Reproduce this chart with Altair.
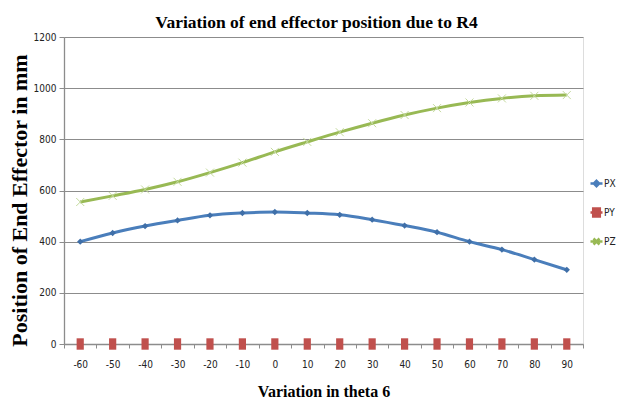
import altair as alt
import pandas as pd

theta = [-60, -50, -40, -30, -20, -10, 0, 10, 20, 30, 40, 50, 60, 70, 80, 90]
px = [400, 434, 461, 483, 503, 512, 516, 512, 505, 486, 463, 437, 400, 369, 330, 290]
py = [0, 0, 0, 0, 0, 0, 0, 0, 0, 0, 0, 0, 0, 0, 0, 0]
pz = [555, 579, 604, 634, 670, 709, 751, 790, 828, 863, 895, 922, 944, 960, 970, 973]
series_names = ["PX", "PY", "PZ"]
series_colors = ["#4A7EBB", "#C0504D", "#98B954"]
y_ticks = [0, 200, 400, 600, 800, 1000, 1200]

rows = []
for name, vals in zip(series_names, [px, py, pz]):
    for t, v in zip(theta, vals):
        rows.append({"theta": t, "value": v, "series": name})
df = pd.DataFrame(rows)

narrow = "Liberation Sans Narrow, DejaVu Sans Condensed, Arial Narrow, sans-serif"
serif = "Liberation Serif, Times New Roman, serif"
grey = "#8C8C8C"

x_enc = alt.X(
    "theta:O",
    bandPosition=0.5,
    scale=alt.Scale(type="band", paddingInner=0, paddingOuter=0),
    axis=alt.Axis(
        title="Variation in theta 6",
        titleFont=serif, titleFontSize=16, titleFontWeight="bold", titleColor="black",
        titleBaseline="alphabetic", titleY=52,
        labelAngle=0, labelFont=narrow, labelFontSize=10, labelColor="#222222",
        labelPadding=11, tickBand="extent", tickSize=4, tickColor=grey,
        domainColor=grey, domainWidth=1.3, grid=False,
    ),
)
y_enc = alt.Y(
    "value:Q",
    scale=alt.Scale(domain=[0, 1200], nice=False),
    axis=alt.Axis(
        title="Position of End Effector in mm",
        titleFont=serif, titleFontSize=22, titleFontWeight="bold", titleColor="black",
        titleBaseline="alphabetic", titleX=-38, titleY=163, titleAngle=-90,
        values=y_ticks, format="d", labelFont=narrow, labelFontSize=10, labelColor="#222222",
        labelPadding=3, tickSize=5, tickColor=grey, domainColor=grey, domainWidth=1.3,
        grid=True, gridColor=grey, gridWidth=1.2,
    ),
)

base = alt.Chart(df).encode(x=x_enc, y=y_enc)

line_px = base.transform_filter(alt.datum.series == "PX").mark_line(
    interpolate="monotone", strokeWidth=3, color=series_colors[0])
line_pz = base.transform_filter(alt.datum.series == "PZ").mark_line(
    interpolate="monotone", strokeWidth=3, color=series_colors[2])

pts_px = base.transform_filter(alt.datum.series == "PX").mark_point(
    shape="diamond", filled=True, size=40, color="#3F6FA8", opacity=1)
pts_py = base.transform_filter(alt.datum.series == "PY").mark_point(
    shape="M-0.6,-0.95H0.6V0.95H-0.6Z", filled=True, size=144, color=series_colors[1], opacity=1)
pts_pz = base.transform_filter(alt.datum.series == "PZ").mark_point(
    shape="M-1,-1L1,1M-1,1L1,-1", filled=False, size=64, strokeWidth=1,
    color="#C4DA9E", opacity=1)

legend_paths = [
    "M-1,0H1M0,-0.45L0.45,0L0,0.45L-0.45,0Z",
    "M-1,0H1M-0.55,-0.65H0.55V0.65H-0.55Z",
    "M-1,0H1M-0.5,-0.5L0.5,0.5M-0.5,0.5L0.5,-0.5",
]
leg = alt.Legend(
    title=None, orient="none", legendX=525, legendY=139, padding=0,
    rowPadding=11, labelFont=narrow, labelFontSize=10, labelColor="#222222",
    labelOffset=0, symbolSize=144, symbolStrokeWidth=2.5, symbolOpacity=1,
)
legend_layer = base.mark_point(opacity=0, filled=False).encode(
    stroke=alt.Stroke("series:N", scale=alt.Scale(domain=series_names, range=series_colors), legend=leg),
    fill=alt.Fill("series:N", scale=alt.Scale(domain=series_names, range=series_colors), legend=leg),
    shape=alt.Shape("series:N", scale=alt.Scale(domain=series_names, range=legend_paths), legend=leg),
)

chart = alt.layer(legend_layer, line_px, line_pz, pts_px, pts_py, pts_pz).properties(
    width=519, height=307,
    autosize=alt.AutoSizeParams(type="none"),
    padding={"left": 56, "top": 29, "right": 35, "bottom": 55},
    title=alt.TitleParams(
        "Variation of end effector position due to R4",
        font=serif, fontSize=17.5, fontWeight="bold", color="black",
        anchor="middle", offset=1, dx=-7,
    ),
).configure_view(stroke=None).configure(background="white")

chart.save("out.html", embed_options={"renderer": "svg", "actions": False})
